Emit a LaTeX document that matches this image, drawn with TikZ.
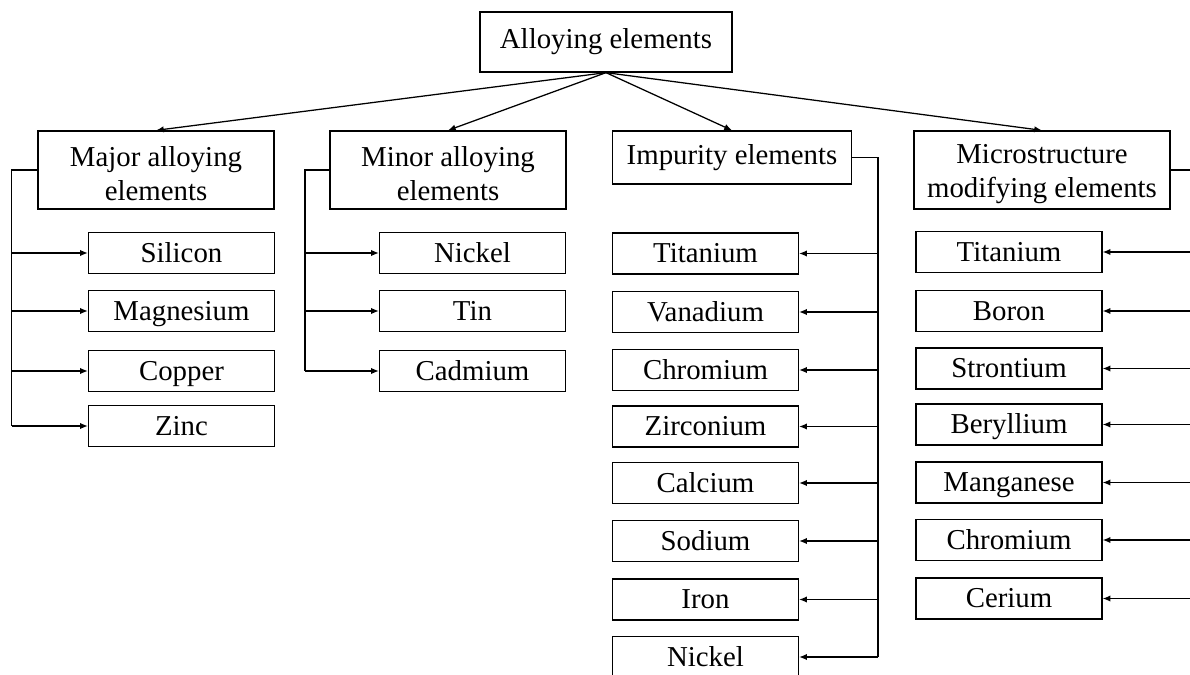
\documentclass[tikz,border=0pt]{standalone}
\usepackage{fontspec}
\setmainfont{Liberation Serif}
\usetikzlibrary{arrows.meta}

\begin{document}
\begin{tikzpicture}[x=0.025cm, y=-0.025cm,
	groupBox/.style={rectangle, draw=black, line width=0.9pt, align=center, inner sep=2pt, font=\fontsize{20.5}{24.5}\selectfont},
	elemBox/.style={rectangle, draw=black, line width=0.9pt, minimum width=4.65cm, minimum height=1.03cm, inner sep=0pt, text height=13.5pt, text depth=0pt, font=\fontsize{20.5}{24.5}\selectfont},
	trunk/.style={line width=0.9pt},
	feed/.style={-{Latex[length=5.5pt, width=4.5pt]}, line width=0.9pt}]

		\useasboundingbox (0,0) rectangle (1190,675);
		\clip (0,0) rectangle (1190,675);

		\node[groupBox, minimum width=6.3cm, minimum height=1.5cm](alloyBox) at (606,42){Alloying elements};
		\node[groupBox, minimum width=5.9cm, minimum height=1.95cm](majorBox) at (156,170){Major alloying\rule{0pt}{19.5pt}\\elements};
		\node[groupBox, minimum width=5.9cm, minimum height=1.95cm](minorBox) at (448,170){Minor alloying\rule{0pt}{19.5pt}\\elements};
		\node[groupBox, minimum width=5.975cm, minimum height=1.325cm](impurityBox) at (732,157.5){Impurity elements};
		\node[groupBox, minimum width=6.4cm, minimum height=1.95cm](microBox) at (1042,170){Microstructure\rule{0pt}{19.5pt}\\modifying elements};

		\node[elemBox](silicon) at (181.5,253){Silicon};
		\node[elemBox](magnesium) at (181.5,311){Magnesium};
		\node[elemBox](copper) at (181.5,371){Copper};
		\node[elemBox](zinc) at (181.5,426){Zinc};

		\node[elemBox](minNickel) at (472.5,253){Nickel};
		\node[elemBox](minTin) at (472.5,311){Tin};
		\node[elemBox](minCadmium) at (472.5,371){Cadmium};

		\node[elemBox](impTitanium) at (705.5,253.5){Titanium};
		\node[elemBox](impVanadium) at (705.5,312){Vanadium};
		\node[elemBox](impChromium) at (705.5,370){Chromium};
		\node[elemBox](impZirconium) at (705.5,426.5){Zirconium};
		\node[elemBox](impCalcium) at (705.5,483){Calcium};
		\node[elemBox](impSodium) at (705.5,541){Sodium};
		\node[elemBox](impIron) at (705.5,599.5){Iron};
		\node[elemBox](impNickel) at (705.5,657){Nickel};

		\node[elemBox](micTitanium) at (1009,252){Titanium};
		\node[elemBox](micBoron) at (1009,311){Boron};
		\node[elemBox](micStrontium) at (1009,368.5){Strontium};
		\node[elemBox](micBeryllium) at (1009,424.5){Beryllium};
		\node[elemBox](micManganese) at (1009,482.5){Manganese};
		\node[elemBox](micChromium) at (1009,540){Chromium};
		\node[elemBox](micCerium) at (1009,598.5){Cerium};

		\draw [feed] (alloyBox.south) -- (majorBox.north);
		\draw [feed] (alloyBox.south) -- (minorBox.north);
		\draw [feed] (alloyBox.south) -- (impurityBox.north);
		\draw [feed] (alloyBox.south) -- (microBox.north);

		\coordinate (majorTrunk) at (11.5,170);
		\coordinate (minorTrunk) at (305,170);
		\coordinate (impurityTrunk) at (878,157.5);
		\coordinate (microTrunk) at (1193,170);

		\draw [trunk] (majorBox.west) -- (majorTrunk) -- (majorTrunk |- zinc.west);
		\draw [feed] (majorTrunk |- silicon.west) -- (silicon.west);
		\draw [feed] (majorTrunk |- magnesium.west) -- (magnesium.west);
		\draw [feed] (majorTrunk |- copper.west) -- (copper.west);
		\draw [feed] (majorTrunk |- zinc.west) -- (zinc.west);

		\draw [trunk] (minorBox.west) -- (minorTrunk) -- (minorTrunk |- minCadmium.west);
		\draw [feed] (minorTrunk |- minNickel.west) -- (minNickel.west);
		\draw [feed] (minorTrunk |- minTin.west) -- (minTin.west);
		\draw [feed] (minorTrunk |- minCadmium.west) -- (minCadmium.west);

		\draw [trunk] (impurityBox.east) -- (impurityTrunk) -- (impurityTrunk |- impNickel.east);
		\draw [feed] (impurityTrunk |- impTitanium.east) -- (impTitanium.east);
		\draw [feed] (impurityTrunk |- impVanadium.east) -- (impVanadium.east);
		\draw [feed] (impurityTrunk |- impChromium.east) -- (impChromium.east);
		\draw [feed] (impurityTrunk |- impZirconium.east) -- (impZirconium.east);
		\draw [feed] (impurityTrunk |- impCalcium.east) -- (impCalcium.east);
		\draw [feed] (impurityTrunk |- impSodium.east) -- (impSodium.east);
		\draw [feed] (impurityTrunk |- impIron.east) -- (impIron.east);
		\draw [feed] (impurityTrunk |- impNickel.east) -- (impNickel.east);

		\draw [trunk] (microBox.east) -- (microTrunk) -- (microTrunk |- micCerium.east);
		\draw [feed] (microTrunk |- micTitanium.east) -- (micTitanium.east);
		\draw [feed] (microTrunk |- micBoron.east) -- (micBoron.east);
		\draw [feed] (microTrunk |- micStrontium.east) -- (micStrontium.east);
		\draw [feed] (microTrunk |- micBeryllium.east) -- (micBeryllium.east);
		\draw [feed] (microTrunk |- micManganese.east) -- (micManganese.east);
		\draw [feed] (microTrunk |- micChromium.east) -- (micChromium.east);
		\draw [feed] (microTrunk |- micCerium.east) -- (micCerium.east);
	\end{tikzpicture}
\end{document}
